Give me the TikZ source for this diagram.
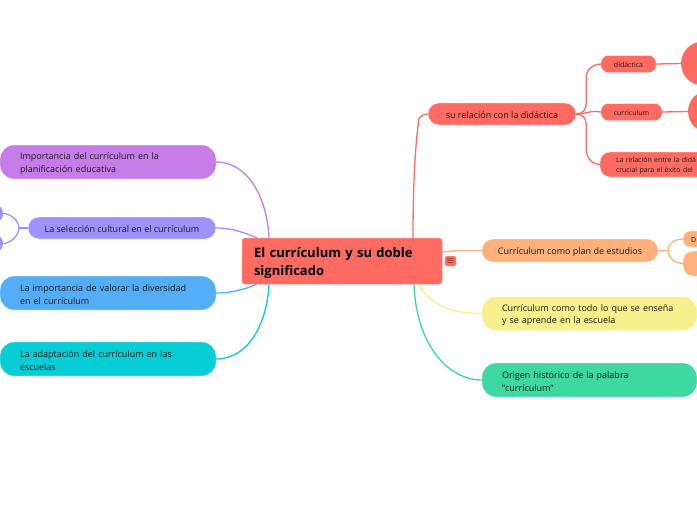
\documentclass[tikz,border=0pt]{standalone}
\usepackage{fontspec}
\setmainfont{Open Sans}
\usepackage{tikz}
\usetikzlibrary{calc}
\definecolor{rootred}{HTML}{FF6B61}
\definecolor{lilac}{HTML}{C77DE8}
\definecolor{violet}{HTML}{9D93FF}
\definecolor{skyblue}{HTML}{54ADF7}
\definecolor{teal}{HTML}{07CDD6}
\definecolor{peach}{HTML}{FFB17D}
\definecolor{lemon}{HTML}{F8F08C}
\definecolor{mint}{HTML}{3ED8A3}
\definecolor{inkdark}{HTML}{1C1C1C}
\tikzstyle{root} = [rectangle, fill=rootred, draw=rootred!70!white, line width=0.5pt, rounded corners=3pt, align=left, text width=176pt, inner xsep=12pt, minimum height=46pt, text=black, font=\fontsize{13}{18}\selectfont\bfseries, execute at begin node=\rule{0pt}{1.1em}]
\tikzstyle{topic} = [rectangle, draw=white, line width=0.3pt, rounded corners=11pt, align=center, text=inkdark, inner sep=0pt, minimum height=23pt, font=\fontsize{9}{12.5}\selectfont, execute at begin node=\rule{0pt}{1.1em}]
\tikzstyle{wide} = [topic, rounded corners=14pt, align=left, minimum height=34pt, inner xsep=20pt]
\tikzstyle{small} = [topic, rounded corners=7pt, minimum height=17pt, font=\fontsize{7}{10}\selectfont]
\tikzstyle{blob} = [circle, inner sep=0pt]
\tikzstyle{connector} = [line width=1.3pt]
\begin{document}
\begin{tikzpicture}[x=1pt, y=-1pt, node distance=0pt]
            \useasboundingbox (0,0) rectangle (697,520);
            \clip (0,0) rectangle (697,520);
            \node (curriculum-root) [root] at (342,261) {El currículum y su doble\\significado};
            \node (menu) [rectangle, fill=rootred, draw=rootred!70!white, line width=0.3pt, rounded corners=1.5pt, inner sep=0pt, minimum width=11pt, minimum height=10pt, right of = curriculum-root, xshift=108.5pt, text=black, font=\fontsize{9}{9}\selectfont] {$\equiv$};
            % right side
            \node (relation) [topic, fill=rootred, minimum width=148pt, minimum height=22pt, right of = curriculum-root, xshift=160pt, yshift=147pt] {su relación con la didáctica};
            \node (didactics) [small, fill=rootred, minimum width=55pt, right of = relation, xshift=126.5pt, yshift=50pt] {didáctica};
            \node (syllabus) [small, fill=rootred, minimum width=61pt, right of = relation, xshift=129.5pt, yshift=2pt] {currículum};
            \node (link) [small, fill=rootred, rounded corners=10pt, align=left, text width=123pt, inner xsep=16pt, minimum height=25pt, right of = relation, xshift=175.5pt, yshift=-50.5pt] {La relación entre la didá\\crucial para el éxito del};
            \node (didactics-blob) [blob, fill=rootred, minimum size=44pt, right of = didactics, xshift=74.5pt, yshift=0.5pt] {};
            \node (syllabus-blob) [blob, fill=rootred, minimum size=42pt, right of = syllabus, xshift=77.5pt, yshift=0.5pt] {};
            \node (plan) [topic, fill=peach, minimum width=176pt, right of = curriculum-root, xshift=228pt, yshift=10.5pt] {Currículum como plan de estudios};
            \node (plan-upper) [small, fill=peach, align=left, text width=24pt, inner xsep=8pt, minimum height=16pt, right of = plan, xshift=133pt, yshift=11.5pt] {D};
            \node (plan-lower) [small, fill=peach, rounded corners=10pt, minimum width=40pt, minimum height=25pt, right of = plan, xshift=133pt, yshift=-13pt] {};
            \node (taught) [wide, fill=lemon, text width=175pt, right of = curriculum-root, xshift=247.5pt, yshift=-52.5pt] {Currículum como todo lo que se enseña\\y se aprende en la escuela};
            \node (origin) [wide, fill=mint, text width=175pt, right of = curriculum-root, xshift=247.5pt, yshift=-119pt] {Origen histórico de la palabra\\"currículum"};
            % left side
            \node (planning) [wide, fill=lilac, text width=176pt, right of = curriculum-root, xshift=-234pt, yshift=99pt] {Importancia del currículum en la\\planificación educativa};
            \node (selection) [topic, fill=violet, minimum width=188pt, minimum height=22pt, right of = curriculum-root, xshift=-220pt, yshift=33pt] {La selección cultural en el currículum};
            \node (selection-upper) [blob, fill=violet, rounded corners=8pt, rectangle, minimum width=26pt, minimum height=17pt, right of = selection, xshift=-132pt, yshift=14.5pt] {};
            \node (selection-lower) [blob, fill=violet, rounded corners=8pt, rectangle, minimum width=26pt, minimum height=17pt, right of = selection, xshift=-132pt, yshift=-15.5pt] {};
            \node (diversity) [wide, fill=skyblue, text width=176pt, right of = curriculum-root, xshift=-234pt, yshift=-32pt] {La importancia de valorar la diversidad\\en el currículum};
            \node (schools) [wide, fill=teal, text width=176pt, right of = curriculum-root, xshift=-234pt, yshift=-98pt] {La adaptación del currículum en las\\escuelas};
            % connectors
            \draw [connector, rootred] ($(curriculum-root.north)+(71,0)$) .. controls +(0,-60) and +(-3,22) .. ($(relation.west)+(-9,5)$) .. controls +(2,-3) and +(-4,0) .. (relation.west);
            \draw [connector, peach] ($(curriculum-root.east)+(0,-9)$) .. controls +(18,-2) and +(-18,0) .. (plan.west);
            \draw [connector, lemon] ($(curriculum-root.south)+(76,0)$) .. controls +(14,22) and +(-30,0) .. (taught.west);
            \draw [connector, mint] ($(curriculum-root.south)+(72,0)$) .. controls +(2,60) and +(-34,0) .. (origin.west);
            \draw [connector, rootred] (relation.east) .. controls +(6,0) and +(0,6) .. ($(relation.east)+(10,-10)$) -- ($(relation.east)+(10,-36)$) .. controls +(0,-10) and +(-6,0) .. (didactics.west);
            \draw [connector, rootred] (relation.east) .. controls +(10,0) and +(-10,-2) .. (syllabus.west);
            \draw [connector, rootred] (relation.east) .. controls +(6,0) and +(0,-6) .. ($(relation.east)+(10,10)$) -- ($(relation.east)+(10,34)$) .. controls +(0,12) and +(-6,0) .. (link.west);
            \draw [connector, rootred] (didactics.east) -- (didactics-blob.west);
            \draw [connector, rootred] (syllabus.east) -- (syllabus-blob.west);
            \draw [connector, peach] (plan.east) -- ($(plan.east)+(10,0)$);
            \draw [connector, peach] ($(plan.east)+(10,0)$) .. controls +(0,-8) and +(-7,0) .. (plan-upper.west);
            \draw [connector, peach] ($(plan.east)+(10,0)$) .. controls +(0,8) and +(-7,0) .. (plan-lower.west);
            \draw [connector, lilac] (planning.east) .. controls +(32,0) and +(-2,-40) .. ($(curriculum-root.north)+(-73,0)$);
            \draw [connector, violet] (selection.east) .. controls +(16,0) and +(-12,-5) .. ($(curriculum-root.north west)+(15,0)$);
            \draw [connector, skyblue] (diversity.east) .. controls +(16,0) and +(-12,5) .. ($(curriculum-root.south west)+(15,0)$);
            \draw [connector, teal] (schools.east) .. controls +(32,0) and +(-2,40) .. ($(curriculum-root.south)+(-73,0)$);
            \draw [connector, violet] (selection.west) -- ($(selection.west)+(-9,0)$);
            \draw [connector, violet] ($(selection.west)+(-9,0)$) .. controls +(0,-8) and +(7,0) .. (selection-upper.east);
            \draw [connector, violet] ($(selection.west)+(-9,0)$) .. controls +(0,8) and +(7,0) .. (selection-lower.east);
        \end{tikzpicture}
\end{document}
